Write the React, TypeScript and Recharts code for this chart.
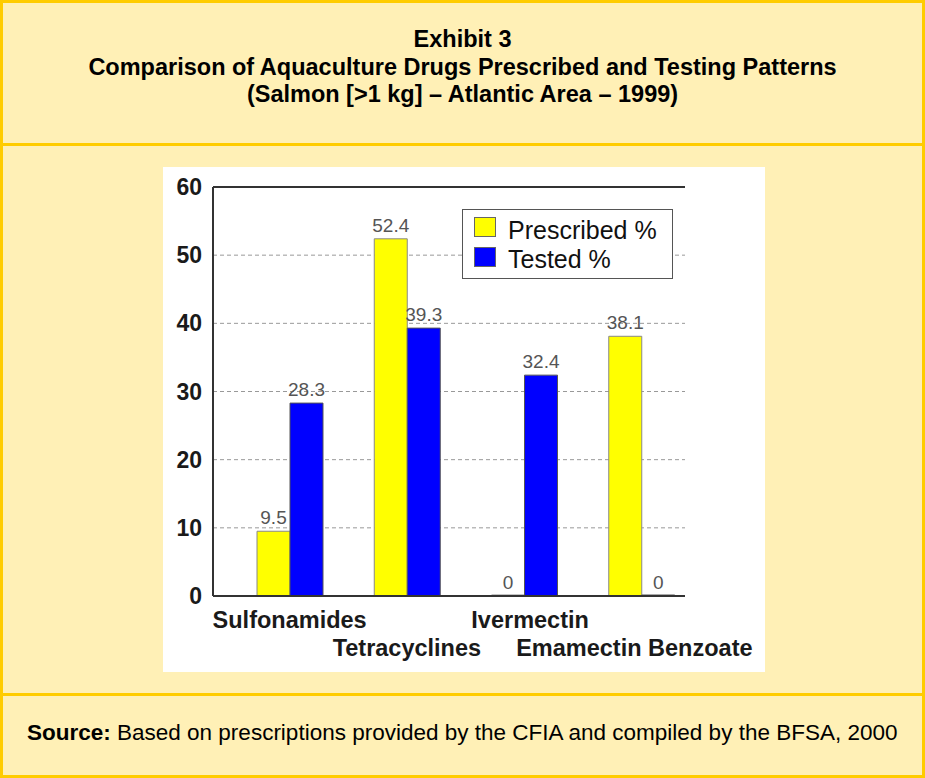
import React from "react";
import {
  BarChart,
  Bar,
  XAxis,
  YAxis,
  CartesianGrid,
  ReferenceLine,
  LabelList,
} from "recharts";

const drugs = ["Sulfonamides", "Tetracyclines", "Ivermectin", "Emamectin Benzoate"];
const prescribed = [9.5, 52.4, 0, 38.1];
const tested = [28.3, 39.3, 32.4, 0];
const yTicks = [0, 10, 20, 30, 40, 50, 60];

const data = drugs.map((name, i) => ({
  name,
  prescribed: prescribed[i],
  tested: tested[i],
}));

const FONT = '"Liberation Sans", Arial, Helvetica, sans-serif';
const GOLD = "#FFCC00";
const PAPER = "#FFF0B6";

const legendItems = [
  { label: "Prescribed %", color: "#FFFF00" },
  { label: "Tested %", color: "#0000FF" },
];

// small horizontal nudges, the original labels aren't quite centred
const tickNudge = [0, 0, 6, -7];

// labels alternate between two rows so the long names don't collide
const StaggeredTick = ({ x, y, payload, index }: any) => (
  <text
    x={x + (tickNudge[index] ?? 0)}
    y={y}
    dy={index % 2 === 0 ? 24 : 52}
    textAnchor="middle"
    fontFamily={FONT}
    fontWeight="bold"
    fontSize={23.5}
    fill="#1a1a1a"
  >
    {payload.value}
  </text>
);

const ValueLabel = (props: any) => {
  const { x, y, width, height, value } = props;
  if (value == null) return null;
  // zero bars get a 1px min height, so anchor them on the axis
  const top = value === 0 ? Number(y) + Number(height) : Number(y);
  return (
    <text
      x={Number(x) + Number(width) / 2}
      y={top - 7}
      textAnchor="middle"
      fontFamily={FONT}
      fontSize={19}
      fill="#555"
    >
      {value}
    </text>
  );
};

export default function App() {
  return (
    <div
      style={{
        position: "absolute",
        left: 0,
        top: 0,
        width: 925,
        height: 778,
        boxSizing: "border-box",
        border: `3px solid ${GOLD}`,
        background: PAPER,
        fontFamily: FONT,
      }}
    >
      <div
        style={{
          height: 143,
          borderBottom: `3px solid ${GOLD}`,
          textAlign: "center",
          fontWeight: "bold",
          fontSize: 23.5,
          lineHeight: "27.5px",
          paddingTop: 23,
          boxSizing: "border-box",
          color: "#000",
        }}
      >
        <div>Exhibit 3</div>
        <div>Comparison of Aquaculture Drugs Prescribed and Testing Patterns</div>
        <div>(Salmon [&gt;1 kg] – Atlantic Area – 1999)</div>
      </div>

      <div style={{ position: "absolute", left: 160, top: 164, background: "#fff" }}>
        <BarChart
          width={602}
          height={505}
          data={data}
          margin={{ top: 20, right: 80, bottom: 0, left: 0 }}
          barGap={0}
          barSize={33}
        >
          <CartesianGrid vertical={false} stroke="#999" strokeDasharray="4 3" />
          <XAxis
            dataKey="name"
            height={76}
            padding={{ left: 18, right: -15 }}
            tickLine={false}
            axisLine={{ stroke: "#333", strokeWidth: 2 }}
            tick={<StaggeredTick />}
            interval={0}
          />
          <YAxis
            width={50}
            domain={[0, 60]}
            ticks={yTicks}
            tickLine={false}
            axisLine={{ stroke: "#333", strokeWidth: 2 }}
            tick={{ fill: "#1a1a1a", fontSize: 23, fontWeight: "bold", fontFamily: FONT }}
            tickMargin={5}
          />
          <YAxis
            yAxisId="right"
            orientation="right"
            width={0}
            domain={[0, 60]}
            tick={false}
            tickLine={false}
            axisLine={{ stroke: "#333", strokeWidth: 2 }}
          />
          <ReferenceLine y={60} stroke="#333" strokeWidth={2} />
          <Bar dataKey="prescribed" name="Prescribed %" fill="#FFFF00" stroke="#888" strokeWidth={1} minPointSize={1} isAnimationActive={false}>
            <LabelList dataKey="prescribed" content={<ValueLabel />} />
          </Bar>
          <Bar dataKey="tested" name="Tested %" fill="#0000FF" stroke="#555" strokeWidth={1} minPointSize={1} isAnimationActive={false}>
            <LabelList dataKey="tested" content={<ValueLabel />} />
          </Bar>
        </BarChart>

        <div
          style={{
            position: "absolute",
            left: 299,
            top: 42,
            width: 211,
            height: 70,
            boxSizing: "border-box",
            border: "1.5px solid #555",
            background: "#fff",
            fontSize: 25,
            lineHeight: "25px",
            color: "#111",
          }}
        >
          {legendItems.map((it, i) => (
            <React.Fragment key={it.label}>
              <span
                style={{
                  position: "absolute",
                  left: 11,
                  top: 7 + i * 30,
                  width: 22,
                  height: 20,
                  boxSizing: "border-box",
                  background: it.color,
                  border: "1px solid #666",
                }}
              />
              <span style={{ position: "absolute", left: 45, top: 8 + i * 29, whiteSpace: "nowrap" }}>
                {it.label}
              </span>
            </React.Fragment>
          ))}
        </div>
      </div>

      <div
        style={{
          position: "absolute",
          left: 0,
          right: 0,
          top: 690,
          borderTop: `3px solid ${GOLD}`,
          paddingLeft: 24,
          paddingTop: 24,
          fontSize: 22.5,
          color: "#000",
        }}
      >
        <b>Source:</b> Based on prescriptions provided by the CFIA and compiled by the BFSA, 2000
      </div>
    </div>
  );
}
